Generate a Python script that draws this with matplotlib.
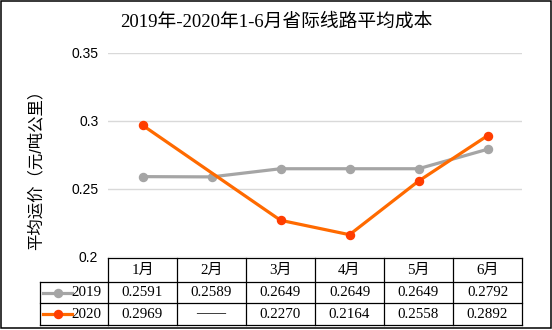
import numpy as np
import matplotlib
matplotlib.use("Agg")
import matplotlib.pyplot as plt
from matplotlib.transforms import blended_transform_factory
from matplotlib.lines import Line2D
from matplotlib.patches import Rectangle

# ---- data ----
months = ["1月", "2月", "3月", "4月", "5月", "6月"]
series_names = ["2019", "2020"]
values_2019 = [0.2591, 0.2589, 0.2649, 0.2649, 0.2649, 0.2792]
values_2020 = [0.2969, np.nan, 0.2270, 0.2164, 0.2558, 0.2892]
yticks = [0.2, 0.25, 0.3, 0.35]
ytick_labels = ["0.2", "0.25", "0.3", "0.35"]
title = "2019年-2020年1-6月省际线路平均成本"
ylabel = "平均运价（元/吨公里）"

# ---- style ----
colors = {"2019": ("#A5A5A5", "#A5A5A5"), "2020": ("#FF6A00", "#FF3D00")}
serif = ["Liberation Serif", "Noto Sans CJK SC"]
sans = ["Liberation Sans", "Noto Sans CJK SC"]

W, H = 552, 330
fig = plt.figure(figsize=(W / 100, H / 100), dpi=100)


def fx(px):
    return px / W


def fy(py):
    return 1 - py / H


ax = fig.add_axes([fx(108), fy(257), fx(522) - fx(108), (257 - 53) / H])
x = np.arange(len(months))
ax.set_xlim(-0.5, len(months) - 0.5)
ax.set_ylim(0.2, 0.35)
for s in ax.spines.values():
    s.set_visible(False)
ax.set_xticks([])
ax.set_yticks(yticks)
ax.set_yticklabels(ytick_labels, fontfamily=sans, fontsize=10)
ax.tick_params(axis="y", length=0, pad=7)
ax.yaxis.grid(True, color="#D9D9D9", lw=1)
ax.set_axisbelow(True)

series = {"2019": np.array(values_2019, float), "2020": np.array(values_2020, float)}
for z, name in enumerate(series_names):
    v = series[name]
    ok = ~np.isnan(v)
    lc, mc = colors[name]
    ax.plot(x[ok], v[ok], color=lc, lw=2.3, marker="o", ms=5.8,
            mfc=mc, mec=mc, zorder=3 + z, solid_capstyle="round")

fig.text(0.5, fy(22), title, ha="center", va="center",
         fontfamily=serif, fontsize=13.5)
fig.text(fx(36), fy(165.5), ylabel, ha="center", va="center", rotation=90,
         fontfamily=sans, fontsize=11.8)

# ---- data table under the plot ----
bt = blended_transform_factory(ax.transData, fig.transFigure)
ft = fig.transFigure
lw = 0.9
row_top, row1, row2, row_bot = 258, 282, 303, 325

def hline(y, with_label_col=True):
    fig.add_artist(Line2D([-0.5, len(months) - 0.5], [fy(y), fy(y)],
                          transform=bt, color="black", lw=lw))
    if with_label_col:
        fig.add_artist(Line2D([fx(40), fx(108)], [fy(y), fy(y)],
                              transform=ft, color="black", lw=lw))

hline(row_top, False)
hline(row1)
hline(row2)
hline(row_bot)
for i in range(len(months) + 1):
    fig.add_artist(Line2D([i - 0.5, i - 0.5], [fy(row_top), fy(row_bot)],
                          transform=bt, color="black", lw=lw))
fig.add_artist(Line2D([fx(40), fx(40)], [fy(row1), fy(row_bot)],
                      transform=ft, color="black", lw=lw))

for i, m in enumerate(months):
    fig.text(i, fy((row_top + row1) / 2), m, transform=bt, ha="center",
             va="center", fontfamily=serif, fontsize=10.8)

row_centers = [(row1 + row2) / 2, (row2 + row_bot) / 2]
for name, yc in zip(series_names, row_centers):
    v = series[name]
    for i, val in enumerate(v):
        txt = "——" if np.isnan(val) else f"{val:.4f}"
        fig.text(i, fy(yc), txt, transform=bt, ha="center", va="center",
                 fontfamily=serif, fontsize=10.8)
    lc, mc = colors[name]
    fig.add_artist(Line2D([fx(43), fx(72)], [fy(yc), fy(yc)], transform=ft,
                          color=lc, lw=2.3))
    fig.add_artist(Line2D([fx(57.5)], [fy(yc)], transform=ft, marker="o",
                          ms=5.8, mfc=mc, mec=mc, lw=0))
    fig.text(fx(101), fy(yc), name, ha="right", va="center",
             fontfamily=serif, fontsize=10.8)

# outer frame
fig.add_artist(Rectangle((fx(0.7), fy(328.3)), fx(550.6) - fx(0.7),
                         fy(0.7) - fy(328.3), transform=ft, fill=False,
                         ec="black", lw=1.1))

fig.savefig("out.png", dpi=100)
